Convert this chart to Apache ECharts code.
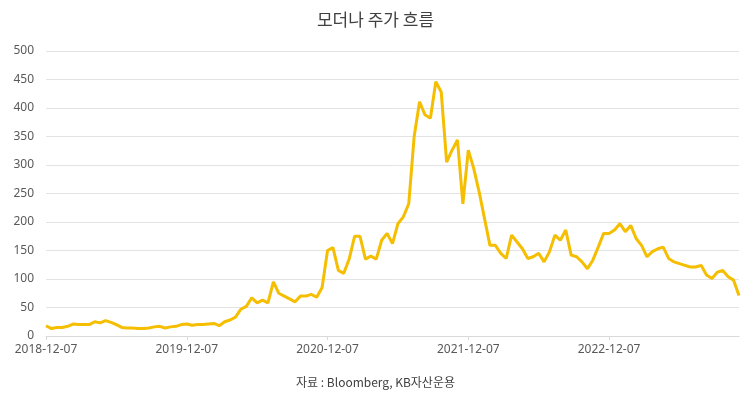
<!DOCTYPE html>
<html><head><meta charset="utf-8">
<script src="https://cdn.jsdelivr.net/npm/echarts@6/dist/echarts.min.js"></script>
<style>html,body{margin:0;padding:0;background:#fff}#c{width:751px;height:401px}</style>
</head><body><div id="c"></div>
<script>
var titleText = '모더나 주가 흐름';
var sourceText = '자료 : Bloomberg, KB자산운용';
var tickLabels = ['2018-12-07','2019-12-07','2020-12-07','2021-12-07','2022-12-07'];
var yTicks = [0,50,100,150,200,250,300,350,400,450,500];
// biweekly closing prices (USD), from 2018-12-07
var prices = [18,13,15,15,17,21,20,20,20,25,23,27,24,20,15,14,14,13,13,14,16,17,14,16,17,20,
21,19,20,20,21,22,18,25,28,33,47,52,67,58,63,58,95,75,70,65,60,70,70,73,68,85,
150,155,115,110,135,175,175,135,140,135,168,180,162,197,209,232,350,411,388,382,446,428,
305,326,344,232,326,294,253,206,159,159,145,136,177,165,153,136,139,145,130,148,177,168,186,
142,139,130,118,133,156,180,180,186,197,183,194,171,159,139,148,153,156,136,130,127,124,121,
121,124,107,101,112,115,104,98,71];
var categories = prices.map(function(_, i){
  var d = new Date(Date.UTC(2018,11,7) + i*14*86400000);
  return d.toISOString().slice(0,10);
});
var chart = echarts.init(document.getElementById('c'));
chart.setOption({
  animation:false,
  title:{text:titleText,left:'center',top:6,textStyle:{fontFamily:'Noto Sans CJK KR',fontSize:17,fontWeight:'normal',color:'#404040'}},
  graphic:[{type:'text',left:'center',top:376,style:{text:sourceText,font:'12px "Noto Sans CJK KR"',fill:'#404040'}}],
  grid:{left:46,right:12,top:51,bottom:65},
  xAxis:{type:'category',data:categories,boundaryGap:false,
    axisLine:{lineStyle:{color:'#d9d9d9'}},
    axisTick:{interval:function(i){return i%26===0;},lineStyle:{color:'#d9d9d9'},length:4},
    axisLabel:{interval:function(i){return i%26===0;},color:'#595959',fontSize:12,fontFamily:'Noto Sans',margin:8,
      formatter:function(v,i){return tickLabels[Math.round(i/26)]||'';}}},
  yAxis:{type:'value',min:0,max:500,interval:50,
    axisLabel:{color:'#595959',fontSize:12,fontFamily:'Noto Sans',margin:12,
      formatter:function(v){return yTicks.indexOf(v)>=0?String(v):'';}},
    splitLine:{lineStyle:{color:'#e3e3e3'}},axisLine:{show:false},axisTick:{show:false}},
  series:[{type:'line',data:prices,showSymbol:false,lineStyle:{color:'#F5BE00',width:3},itemStyle:{color:'#F5BE00'}}]
});
</script></body></html>
